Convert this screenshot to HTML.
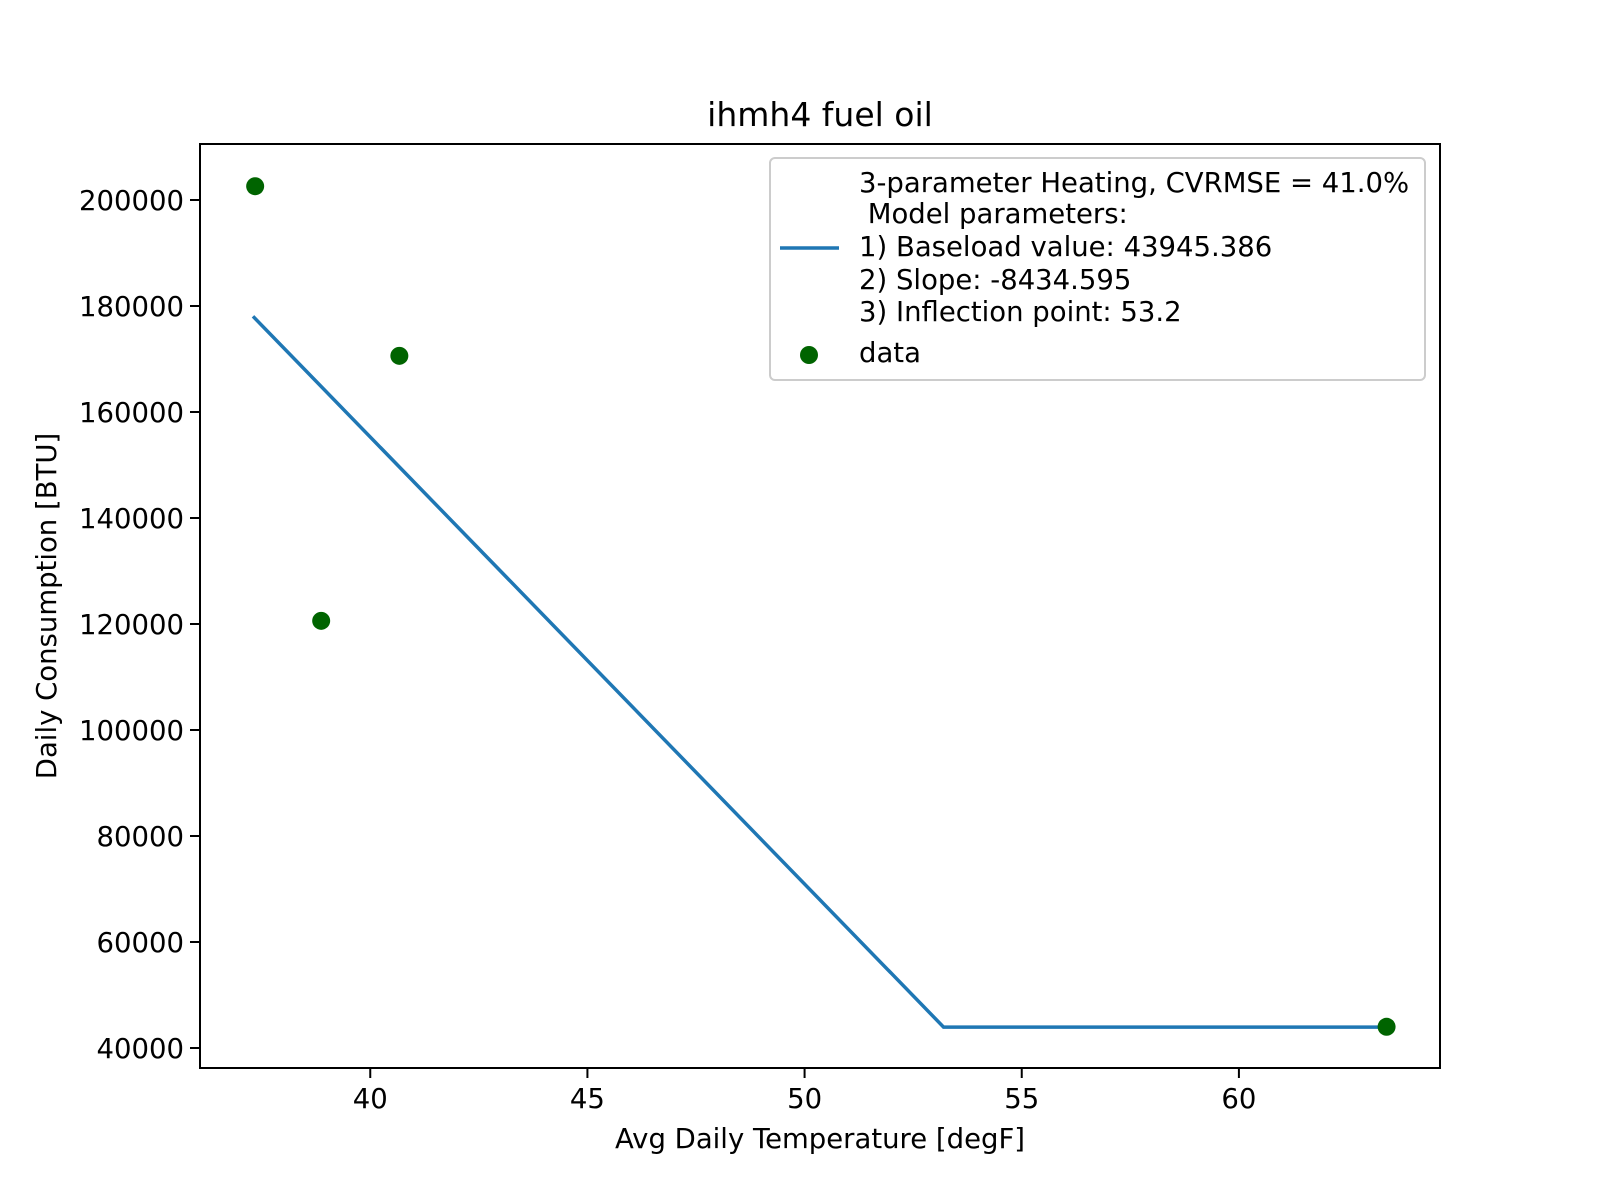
<!DOCTYPE html>
<html><head><meta charset="utf-8"><style>body{margin:0;background:#fff}svg{display:block;font-family:"DejaVu Sans","Liberation Sans",sans-serif}</style></head>
<body>
<svg id="chart" width="1600" height="1200" xmlns="http://www.w3.org/2000/svg"></svg>
<script>
const xTicks=[40,45,50,55,60];
const yTicks=[40000,60000,80000,100000,120000,140000,160000,180000,200000];
const dataX=[37.35,38.87,40.67,63.4];
const dataY=[202600,120600,170600,44000];
const baseload=43945.386, slope=-8434.595, inflection=53.2;
const lineX=[37.3,53.2,63.4];
const L=200,R=1440,T=144,B=1068;
const xMin=36.08,xMax=64.63,yMin=36226,yMax=210566;
const sx=v=>L+(v-xMin)/(xMax-xMin)*(R-L);
const sy=v=>B-(v-yMin)/(yMax-yMin)*(B-T);
const NS="http://www.w3.org/2000/svg";
const svg=document.getElementById('chart');
function mk(tag,attrs,text){const e=document.createElementNS(NS,tag);for(const k in attrs)e.setAttribute(k,attrs[k]);if(text!==undefined)e.textContent=text;svg.appendChild(e);return e;}
let e=mk('text',{x:820,y:126,'font-size':33,'text-anchor':'middle'},'ihmh4 fuel oil');


xTicks.forEach(v=>{
 const t=mk('line',{x1:sx(v),x2:sx(v),y1:B,y2:B+10,stroke:'#000','stroke-width':2});
 
 
 const l=mk('text',{x:sx(v),y:B+40,'font-size':27.5,'text-anchor':'middle'},String(v));
 
 
});
yTicks.forEach(v=>{
 const t=mk('line',{x1:L-10,x2:L,y1:sy(v),y2:sy(v),stroke:'#000','stroke-width':2});
 
 
 const l=mk('text',{x:L-16,y:sy(v)+10,'font-size':27.5,'text-anchor':'end'},String(v));
 
 
});
e=mk('text',{x:820,y:1148,'font-size':27.5,'text-anchor':'middle'},'Avg Daily Temperature [degF]');


e=mk('text',{x:56,y:(T+B)/2,'font-size':27.5,'text-anchor':'middle',transform:`rotate(-90 56 ${(T+B)/2})`},'Daily Consumption [BTU]');


const model=x=>x<inflection?baseload+slope*(x-inflection):baseload;
e=mk('polyline',{points:lineX.map(x=>sx(x)+','+sy(model(x))).join(' '),fill:'none',stroke:'#1f77b4','stroke-width':3.5});


dataX.forEach((x,i)=>{
 const c=mk('circle',{cx:sx(x),cy:sy(dataY[i]),r:9,fill:'#006400'});
 
 
});
e=mk('rect',{x:L,y:T,width:R-L,height:B-T,fill:'none',stroke:'#000','stroke-width':2});


e=mk('rect',{x:770,y:158,width:655,height:222,rx:5,fill:'#fff','fill-opacity':0.8,stroke:'#ccc','stroke-width':2});


const lines=['3-parameter Heating, CVRMSE = 41.0%','\u00a0Model parameters:','1) Baseload value: 43945.386','2) Slope: -8434.595','3) Inflection point: 53.2'];
const ly=[182,213,246,279,311];
lines.forEach((s,i)=>{const t=mk('text',{x:859,y:ly[i]+10,'font-size':27.5},s);
 
 });
e=mk('line',{x1:780,x2:839,y1:248,y2:248,stroke:'#1f77b4','stroke-width':3.5});


e=mk('circle',{cx:809,cy:355,r:9,fill:'#006400'});


e=mk('text',{x:859,y:362,'font-size':27.5},'data');


</script>
</body></html>
